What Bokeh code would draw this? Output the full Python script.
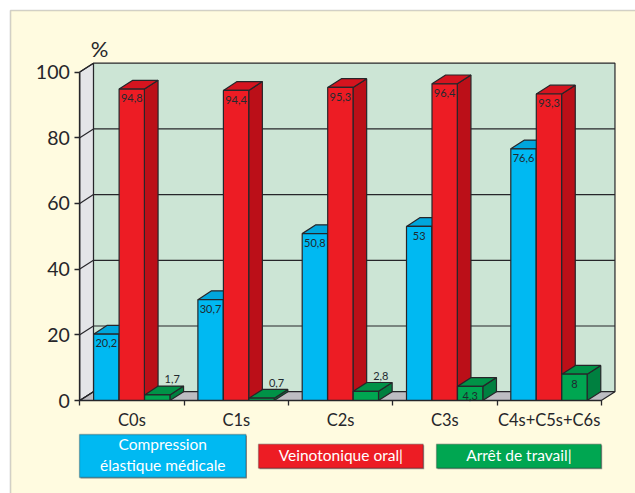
from bokeh.plotting import figure
from bokeh.models import (BoxAnnotation, Label, LinearAxis, FixedTicker, Range1d,
                          ColumnDataSource)
from bokeh.core.properties import value
from bokeh.embed import file_html
from bokeh.resources import INLINE

categories = ["C0s", "C1s", "C2s", "C3s", "C4s+C5s+C6s"]
compression = [20.2, 30.7, 50.8, 53, 76.6]
veinotonique = [94.8, 94.4, 95.3, 96.4, 93.3]
arret = [1.7, 0.7, 2.8, 4.3, 8]
y_ticks = [0, 20, 40, 60, 80, 100]
series_names = ["Compression\nélastique médicale", "Veinotonique oral|", "Arrêt de travail|"]

FONT = "Lato"
INK = "#26262a"
W, H = 635, 493
LEFT, BOTTOM = 79.3, 93
PX_X, PX_Y = 104.3, 3.285
DX, DY = 0.131, 2.68
BAR_W = 25.3 / PX_X
BAR_START = 13.8 / PX_X

p = figure(width=W, height=H, output_backend="svg", toolbar_location=None,
           x_axis_type=None, y_axis_type=None,
           x_range=Range1d(-LEFT / PX_X, (W - LEFT) / PX_X),
           y_range=Range1d(-BOTTOM / PX_Y, (H - BOTTOM) / PX_Y),
           min_border_left=0, min_border_bottom=0, min_border_top=0, min_border_right=0)
p.grid.visible = False
p.outline_line_color = None
p.border_fill_color = "white"
p.background_fill_color = "white"

# Yellow panel with its grey frame
p.add_layout(BoxAnnotation(left=10, right=W + 20, top=10, bottom=H + 20,
                           left_units="canvas", right_units="canvas",
                           top_units="canvas", bottom_units="canvas",
                           fill_color="#FFFBE0", fill_alpha=1,
                           line_color="#6a6a66", line_width=1.6, level="underlay"))

# Walls and floor
xr = len(categories)
p.patch([DX, xr + DX, xr + DX, DX], [DY, DY, 100 + DY, 100 + DY],
        fill_color="#CCE5D5", line_color=INK, line_width=1.2)
p.patch([0, DX, DX, 0], [0, DY, 100 + DY, 100],
        fill_color="#E4E5E8", line_color=INK, line_width=1.2)
p.patch([0, xr, xr + DX, DX], [0, 0, DY, DY],
        fill_color="#BDBDC2", line_color=INK, line_width=1.2)

# Gridlines on the back wall and their returns on the side wall
gx, gy = [], []
for t in y_ticks:
    gx.append([0, DX])
    gy.append([t, t + DY])
    if 0 < t < 100:
        gx.append([DX, xr + DX])
        gy.append([t + DY, t + DY])
p.multi_line(gx, gy, line_color=INK, line_width=1.2)

# 3D bars
palette = [("#00B9F2", "#00A6DC", "#0090C0"),
           ("#ED1C24", "#D5141F", "#BB0F18"),
           ("#00A651", "#009247", "#008040")]
xs, ys, fills = [], [], []
lx, ly, lt, lox, loy = [], [], [], [], []
for i in range(len(categories)):
    for s, vals in enumerate([compression, veinotonique, arret]):
        v = vals[i]
        x0 = i + BAR_START + s * (BAR_W + 0.2 / PX_X)
        x1 = x0 + BAR_W
        front, top, side = palette[s]
        xs.append([x1, x1 + DX, x1 + DX, x1]); ys.append([0, DY, v + DY, v]); fills.append(side)
        xs.append([x0, x1, x1 + DX, x0 + DX]); ys.append([v, v, v + DY, v + DY]); fills.append(top)
        xs.append([x0, x1, x1, x0]); ys.append([0, 0, v, v]); fills.append(front)
        lt.append(str(v).replace(".", ","))
        lx.append((x0 + x1) / 2)
        ly.append(v)
        if s == 2 and v < 4:
            lox.append(15); loy.append(-15.5)
        else:
            lox.append(0); loy.append(9.3)
p.patches(xs, ys, fill_color=fills, line_color=INK, line_width=1.2)
p.text(x="x", y="y", text="t", x_offset="ox", y_offset="oy",
       source=ColumnDataSource(dict(x=lx, y=ly, t=lt, ox=lox, oy=loy)),
       text_font=value(FONT), text_font_size="11px", text_color="#1f2a30",
       text_align="center", text_baseline="middle")

# Axes
yax = LinearAxis(ticker=FixedTicker(ticks=y_ticks), bounds=(0, 100), fixed_location=0,
                 axis_line_color=INK, axis_line_width=1.3,
                 major_tick_line_color=INK, major_tick_line_width=1.3,
                 major_tick_in=0, major_tick_out=5, minor_tick_out=0, minor_tick_in=0,
                 major_label_text_font=FONT, major_label_text_font_size="19.5px",
                 major_label_text_color=INK, major_label_standoff=5)
p.add_layout(yax, "left")
centers = [i + 0.5 for i in range(len(categories))]
xax = LinearAxis(ticker=FixedTicker(ticks=centers, minor_ticks=list(range(len(categories) + 1))),
                 bounds=(0, len(categories)), fixed_location=0,
                 major_label_overrides={c: n for c, n in zip(centers, categories)},
                 axis_line_color=INK, axis_line_width=1.3,
                 major_tick_in=0, major_tick_out=0,
                 minor_tick_in=0, minor_tick_out=5,
                 minor_tick_line_color=INK, minor_tick_line_width=1.3,
                 major_label_text_font=FONT, major_label_text_font_size="16.5px",
                 major_label_text_color=INK, major_label_standoff=4)
p.add_layout(xax, "below")


def canvas_box(l, r, t, b, fill, **kw):
    p.add_layout(BoxAnnotation(left=l, right=r, top=t, bottom=b,
                               left_units="canvas", right_units="canvas",
                               top_units="canvas", bottom_units="canvas",
                               fill_color=fill, fill_alpha=1, **kw))


def canvas_text(x, y, text, size, color, align="center"):
    p.add_layout(Label(x=x, y=y, x_units="canvas", y_units="canvas", text=text,
                       text_font=FONT, text_font_size=size, text_color=color,
                       text_align=align, text_baseline="middle"))


canvas_text(99, 48, "%", "22px", INK)

# Legend boxes
boxes = [(79, 245.5, 434, 477), (258, 422.7, 443.7, 467.7), (436, 600.7, 443.7, 467.7)]
colors = [palette[0][0], palette[1][0], palette[2][0]]
for (l, r, t, b), c in zip(boxes, colors):
    canvas_box(l + 1, r + 1, t + 1, b + 1, "#9a9a92", line_color=None)
    canvas_box(l, r, t, b, c, line_color=INK, line_width=1.3)
for (l, r, t, b), name in zip(boxes, series_names):
    lines = name.split("\n")
    mid = (l + r) / 2
    ctr = (t + b) / 2 - 1.5
    for k, line in enumerate(lines):
        canvas_text(mid, ctr + (k - (len(lines) - 1) / 2) * 21, line, "15.5px", "white")

open("out.html", "w").write(file_html(p, INLINE))
